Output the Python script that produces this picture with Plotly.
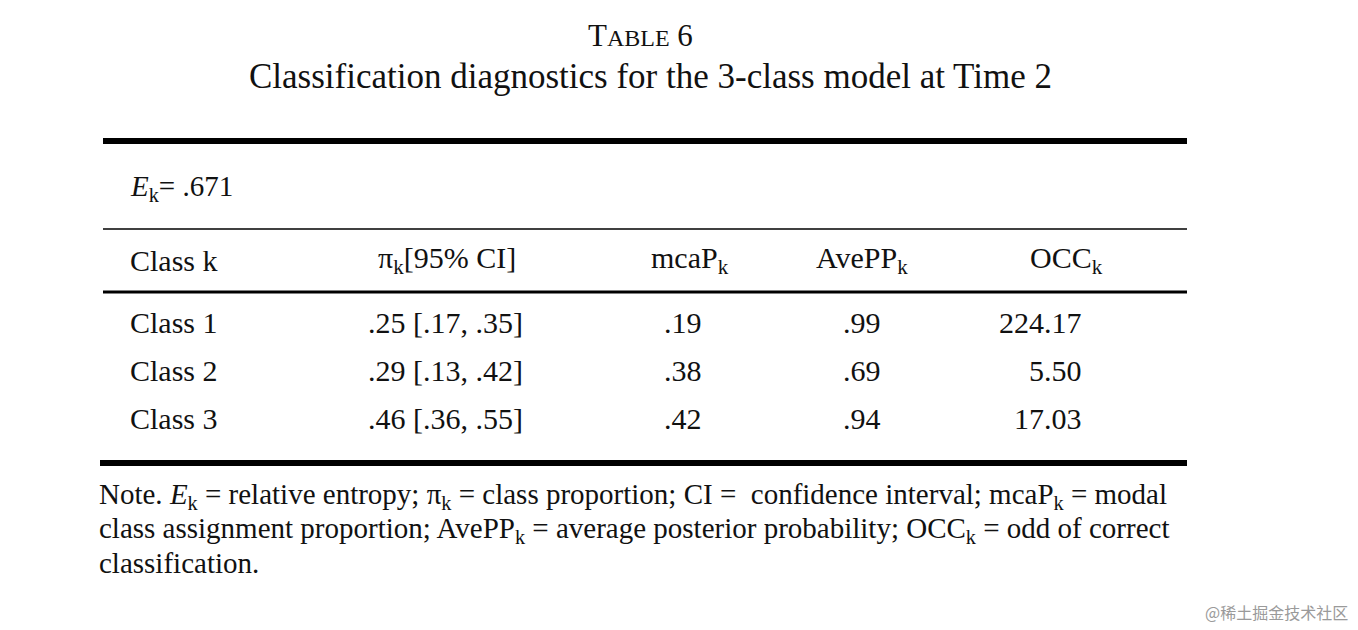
import plotly.graph_objects as go

classes = ["Class 1", "Class 2", "Class 3"]
pi_ci = [".25 [.17, .35]", ".29 [.13, .42]", ".46 [.36, .55]"]
mcap = [".19", ".38", ".42"]
avepp = [".99", ".69", ".94"]
occ = ["224.17", "5.50", "17.03"]
headers = ["Class k", "π<sub>k</sub>[95% CI]", "mcaP<sub>k</sub>", "AvePP<sub>k</sub>", "OCC<sub>k</sub>"]
entropy = ".671"

F = "Liberation Serif, DejaVu Serif, serif"
fig = go.Figure()
fig.add_trace(go.Scatter(x=[0], y=[0], mode="markers", marker=dict(opacity=0), hoverinfo="skip"))
ann = []
def t(x, y, s, size=29, xa="center", color="#111"):
    ann.append(dict(x=x, y=y, text=s, showarrow=False, xanchor=xa, yanchor="middle",
                    font=dict(family=F, size=size, color=color), xref="x", yref="y"))

t(640, 35, "T<span style='font-size:24px'>ABLE</span> 6", 31)
t(650, 76, "Classification diagnostics for the 3-class model at Time 2", 35)
t(128, 188, f"<i>E</i><sub>k</sub>= {entropy}", 29, "left")
hx = [(128, "left"), (447, "center"), (690, "center"), (862, "center"), (1066, "center")]
for (x, a), h in zip(hx, headers):
    t(x, 260, h, 30, a)
ys = [322, 370, 418]
for i, y in enumerate(ys):
    t(128, y, classes[i], 30, "left")
    t(445, y, pi_ci[i], 30)
    t(683, y, mcap[i], 30)
    t(862, y, avepp[i], 30)
    t(1084, y, occ[i], 30, "right")
notes = ["Note. <i>E</i><sub>k</sub> = relative entropy; π<sub>k</sub> = class proportion; CI =  confidence interval; mcaP<sub>k</sub> = modal",
         "class assignment proportion; AvePP<sub>k</sub> = average posterior probability; OCC<sub>k</sub> = odd of correct",
         "classification."]
for y, n in zip([496, 530, 563], notes):
    t(97, y, n, 29, "left")
t(1350, 612, "@稀土掘金技术社区", 16, "right", "#9a9a9a")
ann[-1]["font"]["family"] = "Noto Sans CJK SC"

shapes = [
    dict(type="line", x0=103, x1=1187, y0=141, y1=141, line=dict(color="black", width=6)),
    dict(type="line", x0=103, x1=1187, y0=229, y1=229, line=dict(color="black", width=1.5)),
    dict(type="line", x0=103, x1=1187, y0=292, y1=292, line=dict(color="black", width=3)),
    dict(type="line", x0=100, x1=1187, y0=463, y1=463, line=dict(color="black", width=6)),
]
fig.update_layout(width=1358, height=630, margin=dict(l=0, r=0, t=0, b=0),
                  plot_bgcolor="white", paper_bgcolor="white", showlegend=False,
                  xaxis=dict(range=[8, 1366], visible=False),
                  yaxis=dict(range=[638, 8], visible=False),
                  annotations=ann, shapes=shapes)
fig.write_html("out.html")
